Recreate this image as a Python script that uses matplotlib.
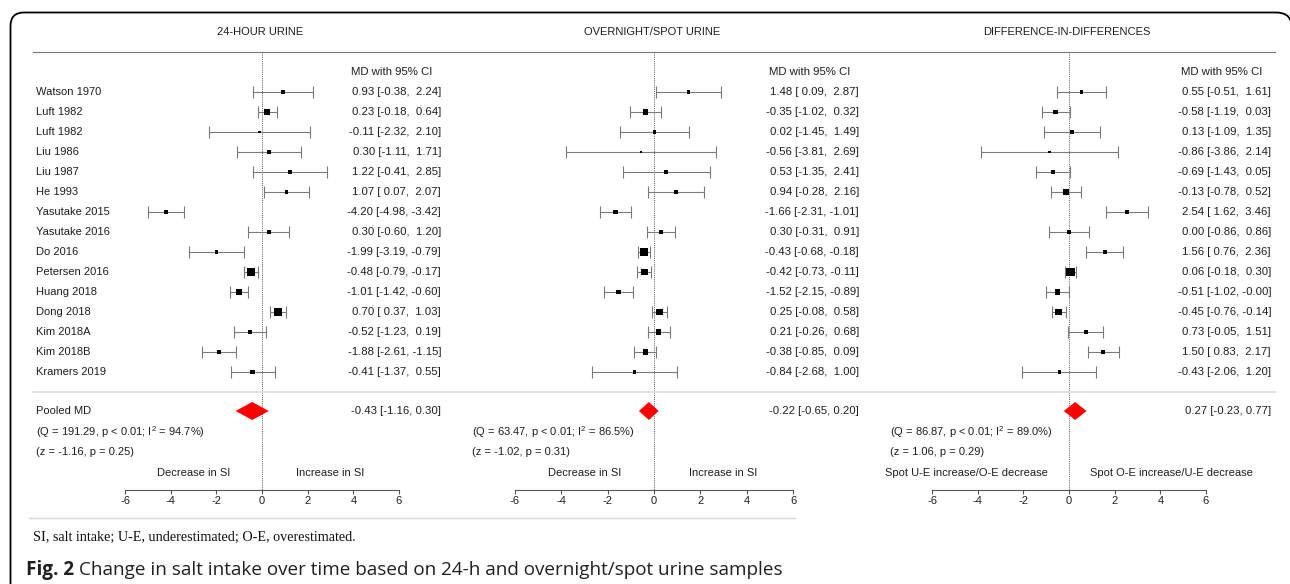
import numpy as np
import matplotlib
matplotlib.use("Agg")
import matplotlib.pyplot as plt
from matplotlib.lines import Line2D
from matplotlib.patches import Polygon, PathPatch
from matplotlib.path import Path
from matplotlib.transforms import Affine2D

plt.rcParams["axes.unicode_minus"] = False
plt.rcParams["font.family"] = ["Liberation Sans", "DejaVu Sans"]

# ---- data -------------------------------------------------------------
studies = ["Watson 1970", "Luft 1982", "Luft 1982", "Liu 1986", "Liu 1987",
           "He 1993", "Yasutake 2015", "Yasutake 2016", "Do 2016",
           "Petersen 2016", "Huang 2018", "Dong 2018", "Kim 2018A",
           "Kim 2018B", "Kramers 2019"]

md_24h = [0.93, 0.23, -0.11, 0.30, 1.22, 1.07, -4.20, 0.30, -1.99, -0.48,
          -1.01, 0.70, -0.52, -1.88, -0.41]
lo_24h = [-0.38, -0.18, -2.32, -1.11, -0.41, 0.07, -4.98, -0.60, -3.19, -0.79,
          -1.42, 0.37, -1.23, -2.61, -1.37]
hi_24h = [2.24, 0.64, 2.10, 1.71, 2.85, 2.07, -3.42, 1.20, -0.79, -0.17,
          -0.60, 1.03, 0.19, -1.15, 0.55]
w_24h = [3.5, 6, 2.5, 3.5, 3.5, 3.5, 4, 3.5, 3.5, 7.5, 6, 7.5, 4.5, 4.5, 4.5]

md_spot = [1.48, -0.35, 0.02, -0.56, 0.53, 0.94, -1.66, 0.30, -0.43, -0.42,
           -1.52, 0.25, 0.21, -0.38, -0.84]
lo_spot = [0.09, -1.02, -1.45, -3.81, -1.35, -0.28, -2.31, -0.31, -0.68, -0.73,
           -2.15, -0.08, -0.26, -0.85, -2.68]
hi_spot = [2.87, 0.32, 1.49, 2.69, 2.41, 2.16, -1.01, 0.91, -0.18, -0.11,
           -0.89, 0.58, 0.68, 0.09, 1.00]
w_spot = [3.5, 5, 3.5, 2.5, 3.5, 3.5, 4.5, 4.5, 7, 6.5, 4.5, 6.5, 5, 5, 3]

md_did = [0.55, -0.58, 0.13, -0.86, -0.69, -0.13, 2.54, 0.00, 1.56, 0.06,
          -0.51, -0.45, 0.73, 1.50, -0.43]
lo_did = [-0.51, -1.19, -1.09, -3.86, -1.43, -0.78, 1.62, -0.86, 0.76, -0.18,
          -1.02, -0.76, -0.05, 0.83, -2.06]
hi_did = [1.61, 0.03, 1.35, 2.14, 0.05, 0.52, 3.46, 0.86, 2.36, 0.30,
          -0.0, -0.14, 1.51, 2.17, 1.20]
w_did = [3.5, 4.5, 3.5, 2.5, 4, 5, 3.5, 3.5, 4, 8, 5, 6.5, 4, 4, 3]

pooled = [(-0.43, -1.16, 0.30), (-0.22, -0.65, 0.20), (0.27, -0.23, 0.77)]
q_text = ["(Q = 191.29, p < 0.01; I$^{\\mathregular{2}}$ = 94.7%)",
          "(Q = 63.47, p < 0.01; I$^{\\mathregular{2}}$ = 86.5%)",
          "(Q = 86.87, p < 0.01; I$^{\\mathregular{2}}$ = 89.0%)"]
z_text = ["(z = -1.16, p = 0.25)", "(z = -1.02, p = 0.31)",
          "(z = 1.06, p = 0.29)"]
titles = ["24-HOUR URINE", "OVERNIGHT/SPOT URINE", "DIFFERENCE-IN-DIFFERENCES"]
dir_labels = [("Decrease in SI", "Increase in SI"),
              ("Decrease in SI", "Increase in SI"),
              ("Spot U-E increase/O-E decrease", "Spot O-E increase/U-E decrease")]
dir_pos = [3.0, 3.0, 4.5]
ticks = [-6, -4, -2, 0, 2, 4, 6]

series = [(md_24h, lo_24h, hi_24h, w_24h),
          (md_spot, lo_spot, hi_spot, w_spot),
          (md_did, lo_did, hi_did, w_did)]

# ---- layout (pixels) --------------------------------------------------
W, H = 1290, 584
# left, right, zero position, px per unit, x of stats text, x of value column
geo = [(33, 445, 262, 22.83, 36, 441),
       (460, 862, 654, 23.2, 472, 859),
       (870, 1275, 1069, 22.83, 890, 1271)]
top_px, bot_px = 52, 518
row0_px, row_h = 72, 20      # row 0 is the "MD with 95% CI" line

TXT = "#1e1e1e"
GREY = "#7a7a7a"

fig = plt.figure(figsize=(W / 100, H / 100), dpi=100)
px_tr = Affine2D().scale(1 / W, -1 / H).translate(0, 1) + fig.transFigure


def yrow(py):
    return (py - row0_px) / row_h


for i, (L, R, Z, S, xs, xv) in enumerate(geo):
    md, lo, hi, w = series[i]
    ax = fig.add_axes([L / W, 1 - bot_px / H, (R - L) / W, (bot_px - top_px) / H])
    ax.set_xlim((L - Z) / S, (R - Z) / S)
    ax.set_ylim(yrow(bot_px), yrow(top_px))
    ax.patch.set_alpha(0)
    for s in ["top", "left", "right"]:
        ax.spines[s].set_visible(False)
    ax.set_yticks([])
    axis_row = yrow(490)
    ax.spines["bottom"].set_position(("data", axis_row))
    ax.spines["bottom"].set_bounds(-6, 6)
    ax.spines["bottom"].set_color("#555555")
    ax.spines["bottom"].set_linewidth(0.8)
    ax.set_xticks(ticks)
    ax.tick_params(axis="x", length=3, width=0.8, color="#555555",
                   labelsize=8, pad=1, labelcolor=TXT)

    def dx(px):
        return (px - Z) / S

    rows = np.arange(1, len(md) + 1)
    ax.vlines(0, yrow(top_px), axis_row, colors="#555555", linestyles=(0, (1, 1.2)),
              linewidth=0.7)
    ax.errorbar(md, rows, xerr=[np.array(md) - np.array(lo), np.array(hi) - np.array(md)],
                fmt="none", ecolor=GREY, elinewidth=0.8, capsize=4.3, capthick=0.8)
    ax.scatter(md, rows, marker="s", s=(np.array(w) * 0.75) ** 2, color="black",
               zorder=3, linewidths=0)

    # value column
    ax.text(dx(xv - 9), 0, "MD with 95% CI", ha="right", va="center",
            fontsize=8.2, color=TXT)
    for r, m, a, b in zip(rows, md, lo, hi):
        ax.text(dx(xv), r, f"{m:.2f} [{a:5.2f}, {b:5.2f}]", ha="right",
                va="center", fontsize=8.2, color=TXT)

    # pooled diamond
    pm, pl, ph = pooled[i]
    prow = yrow(411)
    ax.add_patch(Polygon([(pl, prow), (pm, prow - 0.45), (ph, prow), (pm, prow + 0.45)],
                         closed=True, facecolor="#ff0000", edgecolor="none", zorder=3))
    ax.text(dx(xv), prow, f"{pm:.2f} [{pl:.2f}, {ph:.2f}]", ha="right",
            va="center", fontsize=8.2, color=TXT)
    ax.text(dx(xs), yrow(432), q_text[i], ha="left", va="center", fontsize=8, color=TXT)
    ax.text(dx(xs), yrow(452), z_text[i], ha="left", va="center", fontsize=8, color=TXT)
    ax.text(-dir_pos[i], yrow(473), dir_labels[i][0], ha="center", va="center",
            fontsize=8, color=TXT)
    ax.text(dir_pos[i], yrow(473), dir_labels[i][1], ha="center", va="center",
            fontsize=8, color=TXT)

    fig.text((Z - 2) / W, 1 - 32 / H, titles[i], ha="center", va="center",
             fontsize=8, color=TXT)

    if i == 0:
        for r, name in zip(rows, studies):
            ax.text(dx(xs), r, name, ha="left", va="center", fontsize=8, color=TXT)
        ax.text(dx(xs), prow, "Pooled MD", ha="left", va="center", fontsize=8, color=TXT)

# separator lines
fig.add_artist(Line2D([33, 1275], [52, 52], transform=px_tr, color="#777777", lw=0.8))
fig.add_artist(Line2D([33, 1275], [392, 392], transform=px_tr, color="#dcdcdc", lw=1.2))
fig.add_artist(Line2D([29, 795], [518, 518], transform=px_tr, color="#d6d6d6", lw=1.0))

# rounded frame (open on the right and bottom)
frame = Path([(10.5, 590), (10.5, 26), (10.5, 12.5), (24, 12.5), (1276, 12.5),
              (1289, 12.5), (1291, 22)],
             [Path.MOVETO, Path.LINETO, Path.CURVE3, Path.CURVE3, Path.LINETO,
              Path.CURVE3, Path.CURVE3])
fig.add_artist(PathPatch(frame, transform=px_tr, facecolor="none",
                         edgecolor="black", lw=1.3))

fig.text(33 / W, 1 - 537 / H,
         "SI, salt intake; U-E, underestimated; O-E, overestimated.",
         ha="left", va="center", fontsize=10.2, color="#111111",
         family=["Liberation Serif", "DejaVu Serif"])
t1 = fig.text(26 / W, 1 - 570 / H, "Fig. 2", ha="left", va="center",
              fontsize=13.6, fontweight="bold", color="#231f20",
              family=["Open Sans", "DejaVu Sans"])
fig.canvas.draw()
bb = t1.get_window_extent()
fig.text((bb.x1 + 5) / W, 1 - 570 / H,
         "Change in salt intake over time based on 24-h and overnight/spot urine samples",
         ha="left", va="center", fontsize=13.6, color="#231f20",
         family=["Open Sans", "DejaVu Sans"])

fig.savefig("out.png", dpi=100)
